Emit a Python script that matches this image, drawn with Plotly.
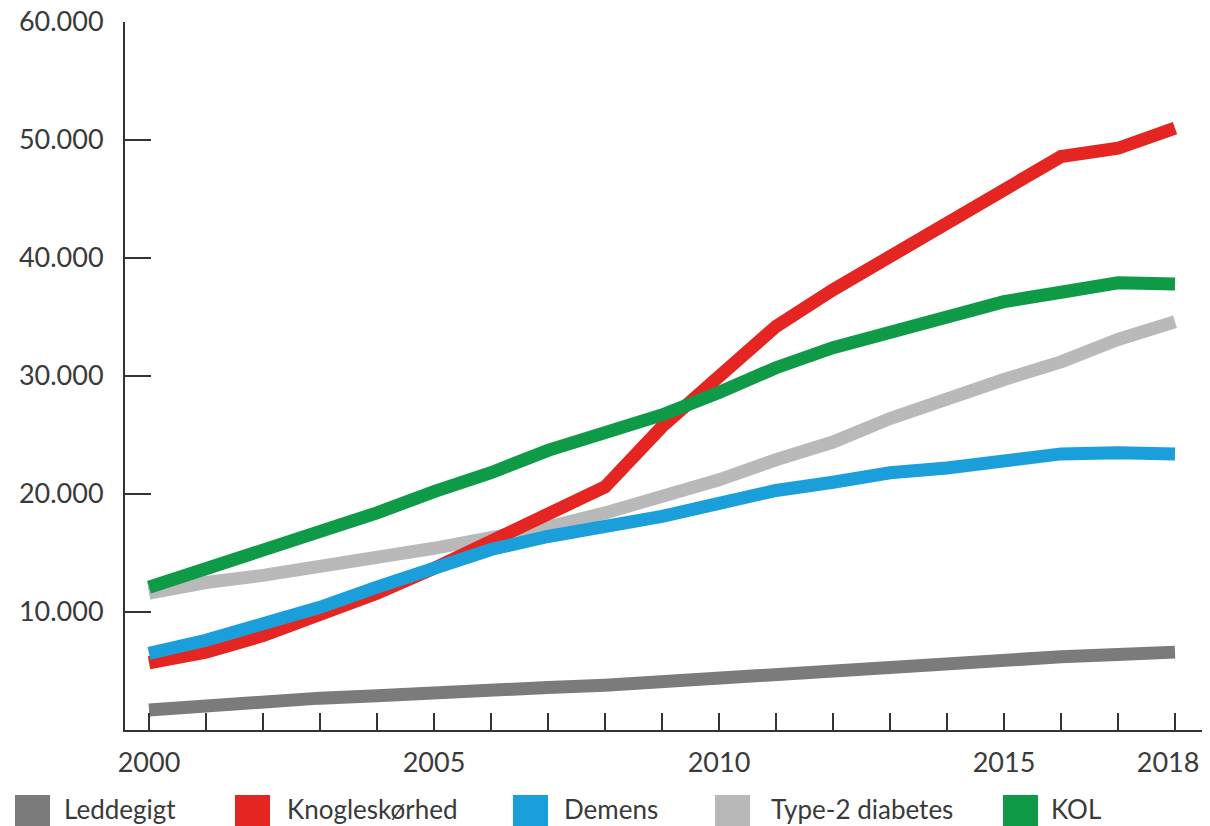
import plotly.graph_objects as go

years = list(range(2000, 2019))

leddegigt = [1700, 2100, 2400, 2700, 2900, 3200, 3500, 3600, 3800, 4100, 4500, 4800, 5200, 5400, 5600, 5900, 6200, 6400, 6600]
knogleskorhed = [5700, 6600, 8000, 9700, 11600, 13700, 15900, 18100, 20600, 25700, 29900, 34200, 37300, 40100, 43100, 46000, 48600, 49300, 51000]
demens = [6500, 7600, 9000, 10400, 12100, 13700, 15300, 16400, 17200, 18100, 19200, 20300, 21000, 21800, 22200, 22900, 23400, 23500, 23400]
type2 = [11600, 12500, 13100, 13800, 14600, 15400, 16300, 17200, 18400, 19700, 21200, 22900, 24400, 26400, 28100, 29700, 31200, 33100, 34600]
kol = [12100, 13700, 15100, 16700, 18400, 20200, 21800, 23700, 25200, 26700, 28600, 30700, 32400, 33700, 35100, 36300, 37100, 37900, 37800]

series_names = ["Leddegigt", "Knogleskørhed", "Demens", "Type-2 diabetes", "KOL"]
series_values = [leddegigt, knogleskorhed, demens, type2, kol]
series_colors = ["#7b7b7b", "#e42521", "#1b9fda", "#b9b9b9", "#0e9a47"]
draw_order = [0, 3, 1, 2, 4]

y_tick_vals = [10000, 20000, 30000, 40000, 50000, 60000]
y_tick_text = ["10.000", "20.000", "30.000", "40.000", "50.000", "60.000"]
x_labelled = {2000: "2000", 2005: "2005", 2010: "2010", 2015: "2015", 2018: "2018\u00a0\u00a0"}

fig = go.Figure()
for i in draw_order:
    fig.add_trace(go.Scatter(
        x=years, y=series_values[i], mode="lines", name=series_names[i],
        line=dict(color=series_colors[i], width=13), showlegend=False,
    ))

# layout geometry (pixels); the page places the figure at (8, 8)
OFF = 8
W, H = 1202, 818
ml, mt = 125 - OFF, 22 - OFF
pw, ph = 1077, 708
mr = W - ml - pw
mb = H - mt - ph

def px_x(p):
    return (p - OFF - ml) / pw

def px_y(p):
    return (mt + ph - (p - OFF)) / ph

# legend (squares + text) along the bottom
leg_sq_x = [15, 235, 513, 715, 1003]
leg_tx_x = [62, 285, 562, 769, 1049]
shapes = []
annotations = []
for i in range(len(series_names)):
    shapes.append(dict(type="rect", xref="paper", yref="paper",
                       x0=px_x(leg_sq_x[i]), x1=px_x(leg_sq_x[i] + 35),
                       y0=px_y(795), y1=px_y(832),
                       fillcolor=series_colors[i], line=dict(width=0), layer="above"))
    annotations.append(dict(xref="paper", yref="paper", x=px_x(leg_tx_x[i]), y=px_y(809),
                            xanchor="left", yanchor="middle", showarrow=False,
                            text=series_names[i],
                            font=dict(family="Lato, sans-serif", size=26, color="#3a3a3a")))

fig.update_layout(
    width=W, height=H,
    margin=dict(l=ml, r=mr, t=mt, b=mb, autoexpand=False),
    paper_bgcolor="white", plot_bgcolor="white",
    font=dict(family="Lato, sans-serif", size=27, color="#3a3a3a"),
    shapes=shapes, annotations=annotations,
    xaxis=dict(
        range=[2000 - 24 / 57, 2018 + 27 / 57],
        tickvals=years,
        ticktext=[x_labelled.get(y, "") for y in years],
        ticks="inside", ticklen=17, tickwidth=2, tickcolor="#333333",
        showline=True, linecolor="#333333", linewidth=2,
        showgrid=False, zeroline=False, automargin=False,
        ticklabelstandoff=8, ticklabeloverflow="allow",
        tickfont=dict(size=27, color="#3a3a3a"),
    ),
    yaxis=dict(
        range=[0, 60000],
        tickvals=y_tick_vals, ticktext=y_tick_text,
        ticks="inside", ticklen=26, tickwidth=2, tickcolor="#333333",
        showline=True, linecolor="#333333", linewidth=2,
        showgrid=False, zeroline=False, automargin=False,
        ticklabelstandoff=14, ticklabeloverflow="allow",
        tickfont=dict(size=27, color="#3a3a3a"),
    ),
)

fig.write_html(
    "out.html",
    post_script="document.documentElement.style.overflow='hidden';document.body.style.overflow='hidden';",
)
